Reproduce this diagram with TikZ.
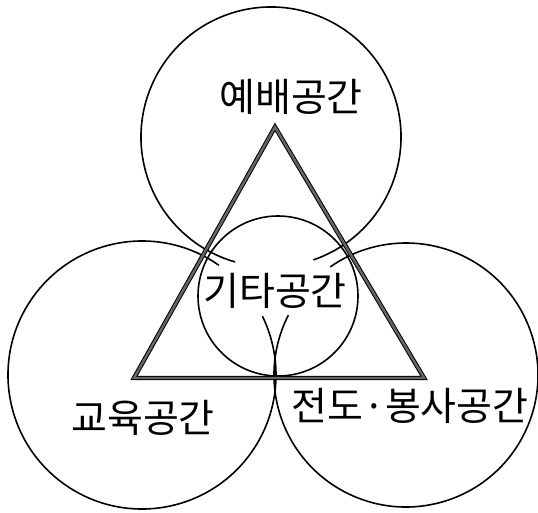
\documentclass[tikz,border=0pt]{standalone}
\usepackage{fontspec}
\newfontfamily\krfont{Noto Sans CJK KR}
\usetikzlibrary{positioning}

\begin{document}
\begin{tikzpicture}[
  x=1pt, y=1pt,
  ring/.style={draw, line width=1.6pt},
  tri/.style={draw=black, line width=1pt, double=black!60, double distance=2.4pt, line join=miter},
  lbl/.style={font=\krfont\fontsize{39}{39}\selectfont, inner sep=0pt}
]
\useasboundingbox (0,0) rectangle (538,512);

% circle centres
\coordinate (top) at (271,375);
\coordinate (left) at (142,137);
\coordinate (right) at (406,137);
\coordinate (mid) at (278,216);

% outer circles, open inside the middle one
\draw[ring] (top) ++(-71:130) arc[start angle=-71, end angle=254, radius=130];
\draw[ring] (left) ++(55:134) arc[start angle=55, end angle=386, radius=134];
\draw[ring] (right) ++(153:132) arc[start angle=153, end angle=485, radius=132];
\draw[ring] (mid) circle[radius=80];

% triangle
\coordinate (apex) at (275,385);
\coordinate (bl) at (134,134);
\coordinate (br) at (424,134);
\draw[tri] (apex) -- (bl) -- (br) -- cycle;

% labels
\node[lbl] (worship) at (291,415) {예배공간};
\node[lbl] (other) at (275,221) {기타공간};
\node[lbl] (edu) at (143,94) {교육공간};
\node[lbl] (mission) at (410,106) {전도·봉사공간};
\end{tikzpicture}
\end{document}
